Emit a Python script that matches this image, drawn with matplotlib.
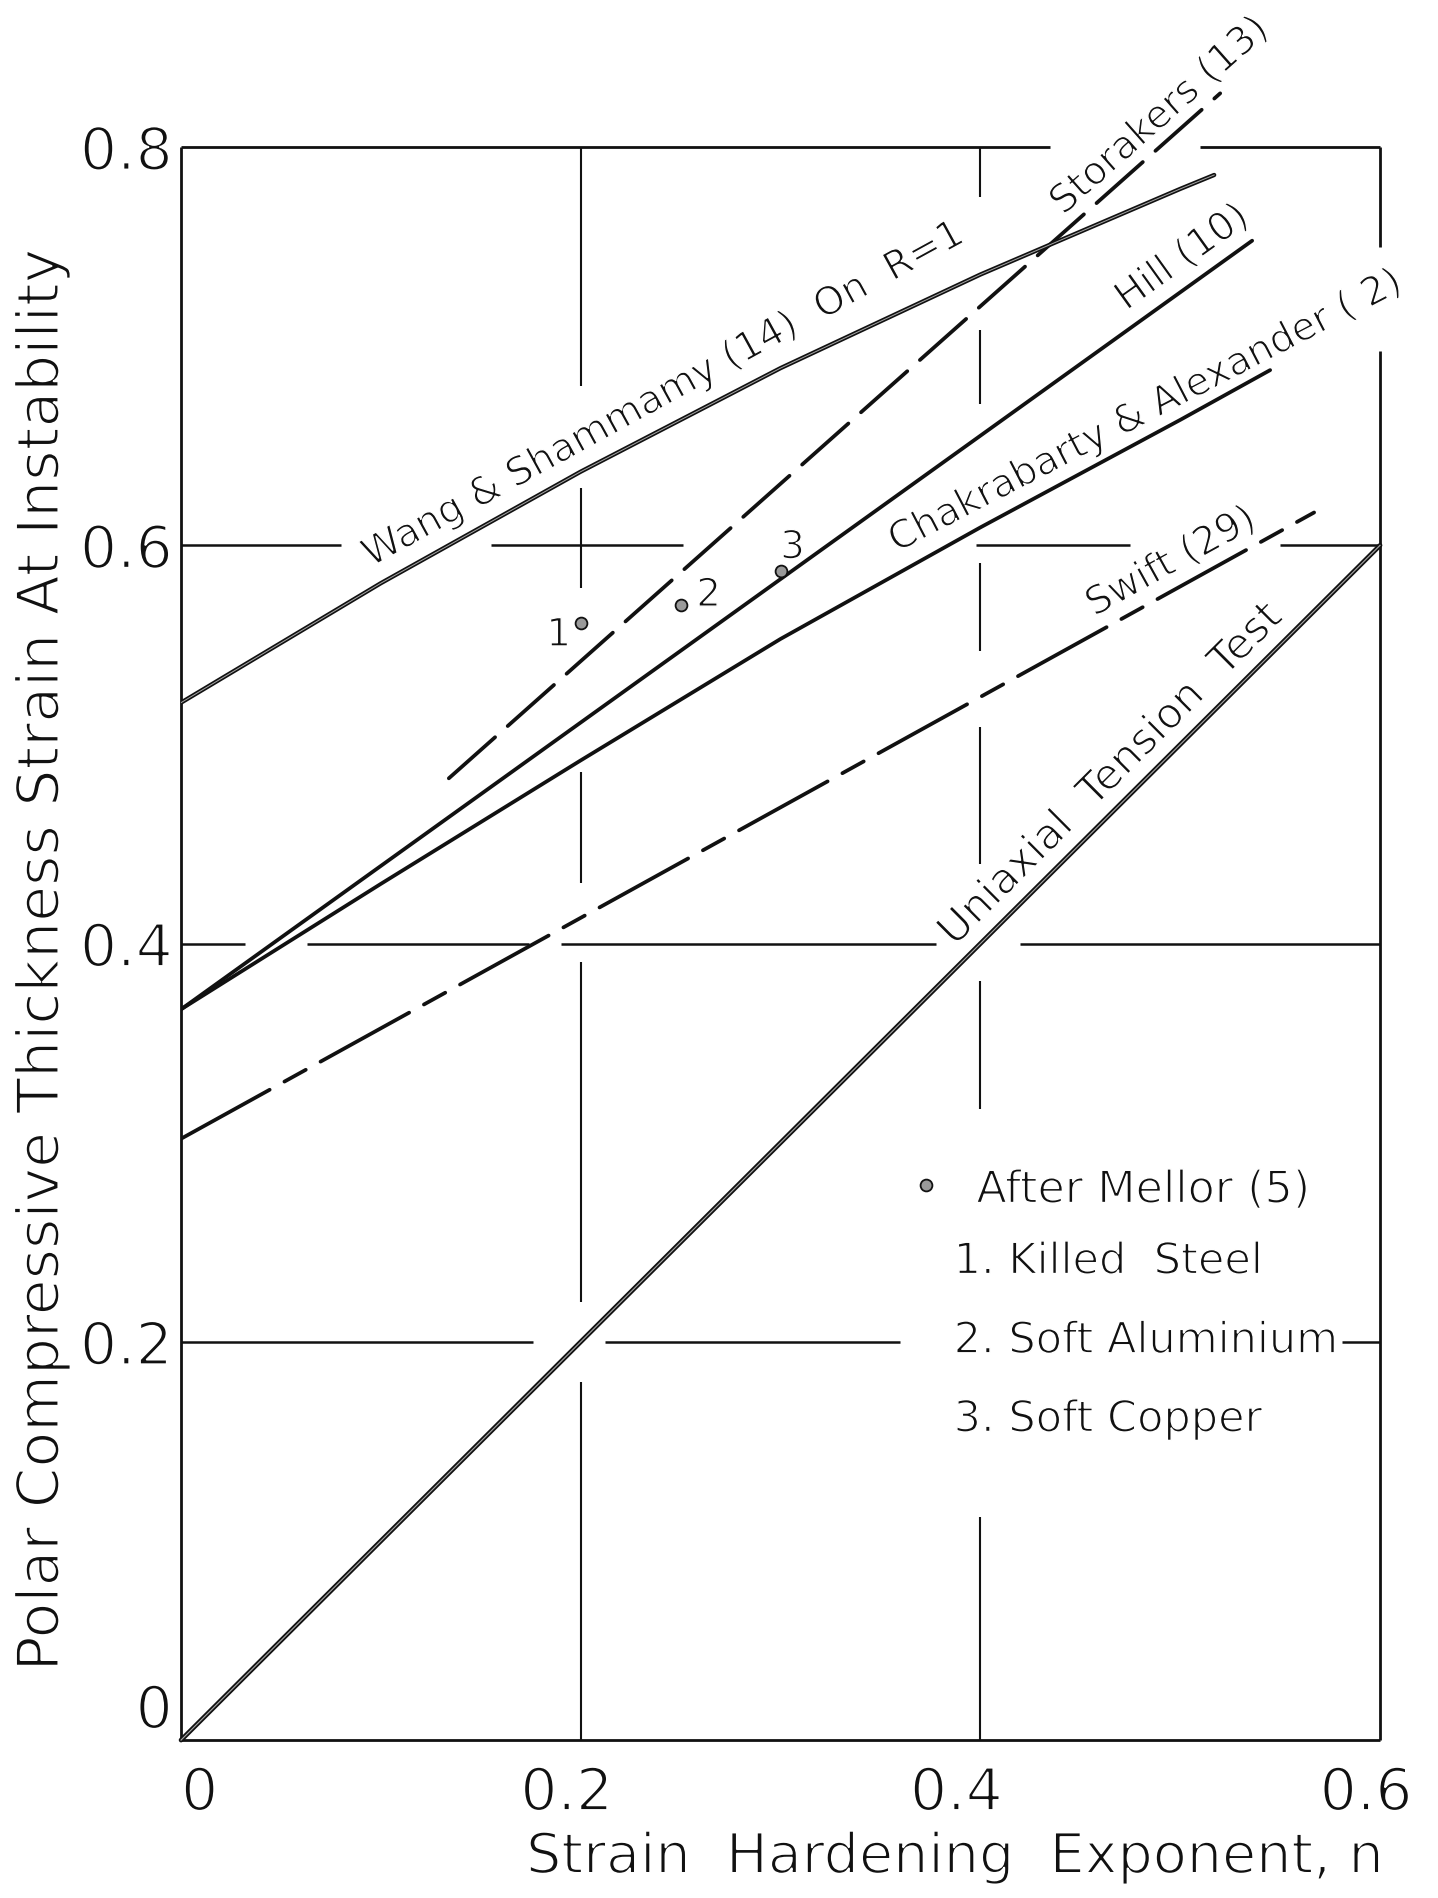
import numpy as np
import matplotlib
matplotlib.use("Agg")
import matplotlib.pyplot as plt
import matplotlib.patheffects as pe
import matplotlib.transforms as mtransforms

# ---- data: polar thickness strain at instability vs strain hardening exponent n
wang_n = [0.0, 0.1, 0.2, 0.3, 0.4, 0.5, 0.517]
wang_eps = [0.521, 0.581, 0.637, 0.689, 0.736, 0.779, 0.786]

storakers_n = [0.134, 0.52]
storakers_eps = [0.483, 0.827]

hill_n = [0.0, 0.536]
hill_eps = [0.367, 0.753]

chak_n = [0.0, 0.1, 0.2, 0.3, 0.4, 0.5, 0.545]
chak_eps = [0.367, 0.430, 0.492, 0.553, 0.609, 0.663, 0.688]

swift_n = [0.0, 0.567]
swift_eps = [0.302, 0.6165]

uniaxial_n = [0.0, 0.6]
uniaxial_eps = [0.0, 0.6]

mellor_n = [0.20, 0.25, 0.30]
mellor_eps = [0.561, 0.570, 0.587]
mellor_ids = ["1", "2", "3"]

x_ticks = [0, 0.2, 0.4, 0.6]
x_tick_labels = ["0", "0.2", "0.4", "0.6"]
y_ticks = [0, 0.2, 0.4, 0.6, 0.8]
y_tick_labels = ["0", "0.2", "0.4", "0.6", "0.8"]

legend_title = "After Mellor (5)"
legend_items = ["1. Killed  Steel", "2. Soft Aluminium", "3. Soft Copper"]

plt.rcParams["font.family"] = ["DejaVu Sans"]
plt.rcParams["font.weight"] = "normal"

fig = plt.figure(figsize=(14.38, 18.98), dpi=100)
ax = fig.add_axes([0.1259, 0.0832, 0.8338, 0.8393])
ax.set_xlim(0, 0.6)
ax.set_ylim(0, 0.8)
for s in ax.spines.values():
    s.set_visible(False)

INK = "#111111"

# ---- hand-drawn frame and grid, broken where lettering or curves cross
frame_lw = 2.0
grid_lw = 1.8
h_segments = {
    0.0: [(0, 0.6)],
    0.2: [(0, 0.176), (0.212, 0.36), (0.581, 0.6)],
    0.4: [(0, 0.032), (0.063, 0.174), (0.19, 0.378), (0.42, 0.6)],
    0.6: [(0, 0.08), (0.155, 0.251), (0.398, 0.475), (0.55, 0.6)],
    0.8: [(0, 0.435), (0.51, 0.6)],
}
v_segments = {
    0.0: [(0, 0.8)],
    0.2: [(0, 0.18), (0.22, 0.391), (0.4305, 0.486), (0.5785, 0.629), (0.68, 0.8)],
    0.4: [(0, 0.112), (0.317, 0.381), (0.44, 0.509), (0.547, 0.591), (0.671, 0.708), (0.775, 0.8)],
    0.6: [(0, 0.6976), (0.75, 0.8)],
}
for yv, segs in h_segments.items():
    lw = frame_lw if yv in (0.0, 0.8) else grid_lw
    for a, b in segs:
        ax.plot([a, b], [yv, yv], color=INK, lw=lw, solid_capstyle="butt", clip_on=False, zorder=1)
for xv, segs in v_segments.items():
    lw = frame_lw if xv in (0.0, 0.6) else 1.5
    for a, b in segs:
        ax.plot([xv, xv], [a, b], color=INK, lw=lw, solid_capstyle="butt", clip_on=False, zorder=1)

# ---- criteria curves
LW = 2.7
ax.plot(wang_n, wang_eps, color=INK, lw=3.1, solid_capstyle="round", zorder=3)
ax.plot(wang_n, wang_eps, color="#a8a8a8", lw=0.7, zorder=4)
ax.plot(storakers_n, storakers_eps, color=INK, lw=LW, dashes=(16.5, 4.5),
        dash_capstyle="round", clip_on=False, zorder=3)
ax.plot(hill_n, hill_eps, color=INK, lw=LW, solid_capstyle="round", zorder=3)
ax.plot(chak_n, chak_eps, color=INK, lw=LW, solid_capstyle="round", zorder=3)
ax.plot(swift_n, swift_eps, color=INK, lw=LW, dashes=(27, 4.5, 6.5, 4.5),
        dash_capstyle="round", zorder=3)
ax.plot(uniaxial_n, uniaxial_eps, color=INK, lw=3.4, solid_capstyle="round", clip_on=False, zorder=3)
ax.plot(uniaxial_n, uniaxial_eps, color="#a8a8a8", lw=0.8, clip_on=False, zorder=4)

# ---- Mellor's experimental points
MARKER = dict(linestyle="none", marker="o", markersize=8.5, markerfacecolor="#9a9a9a",
              markeredgecolor=INK, markeredgewidth=1.3, zorder=5)
ax.plot(mellor_n, mellor_eps, **MARKER)
id_offsets = {"1": (-0.011, -0.006), "2": (0.014, 0.005), "3": (0.006, 0.012)}
for n, e, lab in zip(mellor_n, mellor_eps, mellor_ids):
    dx, dy = id_offsets[lab]
    ax.text(n + dx, e + dy, lab, fontsize=28, ha="center", va="center", color=INK)


# ---- curve names written along the curves
def screen_angle(slope):
    p0 = ax.transData.transform((0.0, 0.0))
    p1 = ax.transData.transform((1.0, slope))
    return np.degrees(np.arctan2(p1[1] - p0[1], p1[0] - p0[0]))


curve_labels = [
    ("Wang & Shammamy (14)  On  R=1", 0.095, 0.589, 0.55, 28),
    ("Storakers (13)", 0.4415, 0.7655, 0.89, 28),
    ("Hill (10)", 0.473, 0.7176, 0.72, 28),
    ("Chakrabarty & Alexander ( 2)", 0.358, 0.5963, 0.52, 28),
    ("Swift (29)", 0.457, 0.5641, 0.555, 28),
    ("Uniaxial  Tension  Test", 0.387, 0.3982, 1.0, 30.5),
]
for txt, x0, y0, slope, size in curve_labels:
    ax.text(x0, y0, txt, fontsize=size, rotation=screen_angle(slope), rotation_mode="anchor",
            ha="left", va="baseline", color=INK, clip_on=False, zorder=6)

# ---- key for the experimental points
ax.plot([0.3726], [0.279], **MARKER)
ax.text(0.398, 0.2762, legend_title, fontsize=32, ha="left", va="center", color=INK)
for txt, yy in zip(legend_items, [0.2403, 0.2005, 0.161]):
    ax.text(0.3866, yy, txt, fontsize=31, ha="left", va="center", color=INK)

# ---- ticks and axis titles
ax.set_xticks(x_ticks)
ax.set_xticklabels(x_tick_labels)
ax.set_yticks(y_ticks)
ax.set_yticklabels(y_tick_labels)
ax.tick_params(axis="both", length=0, labelsize=42, colors=INK)
ax.tick_params(axis="x", pad=18)
ax.tick_params(axis="y", pad=6)
xlabels = ax.get_xticklabels()
xlabels[0].set_ha("left")
for lab, shift in zip(xlabels[1:], [-0.14, -0.24, -0.14]):
    lab.set_transform(lab.get_transform()
                      + mtransforms.ScaledTranslation(shift, 0, fig.dpi_scale_trans))
ax.get_yticklabels()[0].set_va("bottom")

ax.set_xlabel("Strain  Hardening  Exponent, n", fontsize=40, color=INK, va="center")
ax.xaxis.set_label_coords(0.645, -0.074)
ax.set_ylabel("Polar Compressive Thickness Strain At Instability", fontsize=42, color=INK, va="center")
ax.yaxis.set_label_coords(-0.116, 0.49)

# thin pen strokes: trim the glyph outlines slightly with a white edge
for t in (list(ax.texts) + ax.get_xticklabels() + ax.get_yticklabels()
          + [ax.xaxis.label, ax.yaxis.label]):
    t.set_path_effects([pe.Stroke(linewidth=0.035 * t.get_fontsize(), foreground="white")])

fig.savefig("out.png", dpi=100, facecolor="white")
